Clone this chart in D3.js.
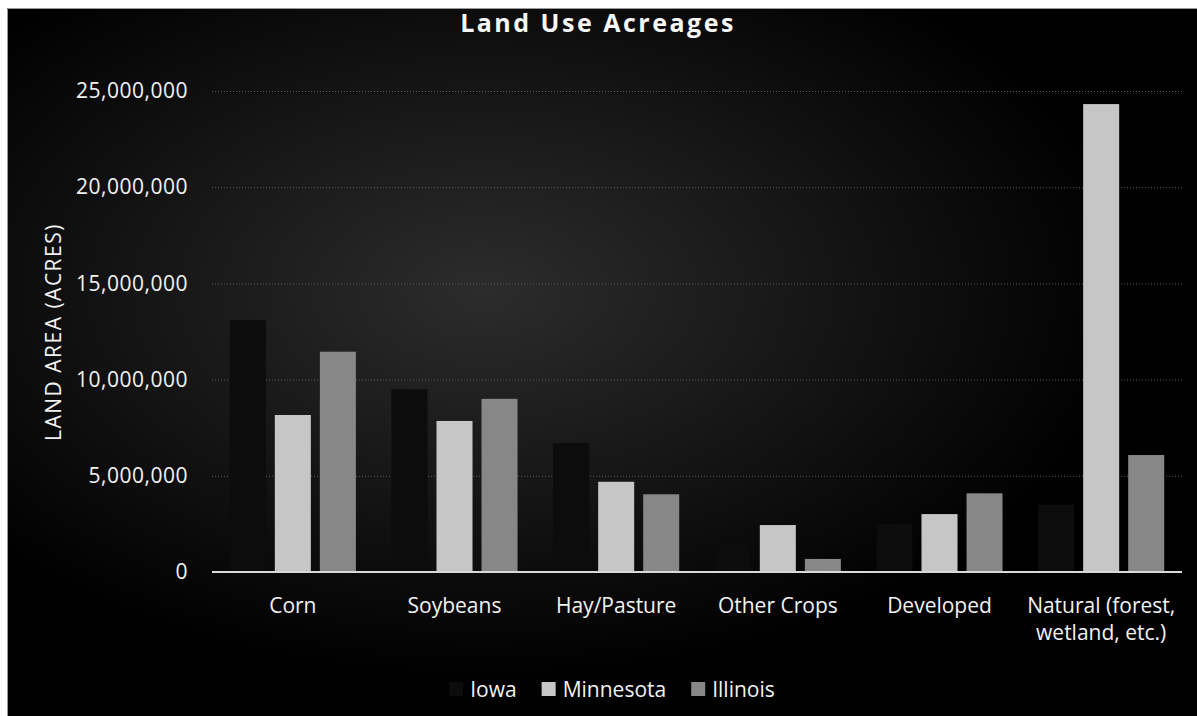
<!DOCTYPE html>
<html>
<head>
<meta charset="utf-8">
<script src="https://cdn.jsdelivr.net/npm/d3@7"></script>
<style>
  body { margin: 0; background: #fff; }
  svg { display: block; font-family: "Open Sans", "Noto Sans", sans-serif; }
</style>
</head>
<body>
<div id="chart"></div>
<script>
// data
const categories = ["Corn", "Soybeans", "Hay/Pasture", "Other Crops", "Developed", "Natural (forest, wetland, etc.)"];
const categoryLines = [["Corn"], ["Soybeans"], ["Hay/Pasture"], ["Other Crops"], ["Developed"], ["Natural (forest,", "wetland, etc.)"]];
const seriesNames = ["Iowa", "Minnesota", "Illinois"];
const iowa = [13100000, 9500000, 6700000, 1500000, 2500000, 3500000];
const minnesota = [8160000, 7850000, 4690000, 2440000, 3010000, 24320000];
const illinois = [11450000, 9000000, 4040000, 680000, 4090000, 6080000];
const yTicks = [0, 5000000, 10000000, 15000000, 20000000, 25000000];

const W = 1197, H = 716;
const margin = { top: 91, right: 15, bottom: 144, left: 212 };
const innerW = W - margin.left - margin.right;
const innerH = H - margin.top - margin.bottom;
const font = '"Open Sans", "Noto Sans", sans-serif';

const svg = d3.select("#chart").append("svg").attr("width", W).attr("height", H);

// background with the soft grey glow
const defs = svg.append("defs");
const grad = defs.append("radialGradient").attr("id", "glow")
  .attr("cx", "40%").attr("cy", "40%").attr("r", "55%");
grad.append("stop").attr("offset", "0%").attr("stop-color", "#2c2c2c");
grad.append("stop").attr("offset", "55%").attr("stop-color", "#141414");
grad.append("stop").attr("offset", "100%").attr("stop-color", "#000");

svg.append("rect").attr("x", 7).attr("y", 8).attr("width", W - 7).attr("height", H - 8).attr("fill", "#000");
svg.append("rect").attr("x", 7).attr("y", 8).attr("width", W - 7).attr("height", H - 8).attr("fill", "url(#glow)");
svg.append("path").attr("d", `M7.5,${H} V8.5 H${W}`).attr("fill", "none").attr("stroke", "#9a9a9a");

const g = svg.append("g").attr("transform", `translate(${margin.left},${margin.top})`);

const x0 = d3.scaleBand().domain(categories).range([0, innerW]).paddingInner(0.22).paddingOuter(0.11);
const x1 = d3.scaleBand().domain(seriesNames).range([0, x0.bandwidth()]).paddingInner(0.2);
const y = d3.scaleLinear().domain([0, 25000000]).range([innerH, 0]);
const color = d3.scaleOrdinal().domain(seriesNames).range(["#0c0c0c", "#c6c6c6", "#878787"]);

// gridlines
g.append("g")
  .call(d3.axisLeft(y).tickValues(yTicks.slice(1)).tickSize(-innerW).tickFormat(""))
  .call(a => a.select(".domain").remove())
  .selectAll("line")
  .attr("stroke", "#5a5a5a")
  .attr("stroke-dasharray", "1 2");

// y tick labels
g.append("g")
  .call(d3.axisLeft(y).tickValues(yTicks).tickSize(0).tickPadding(24).tickFormat(d3.format(",")))
  .call(a => a.select(".domain").remove())
  .selectAll("text")
  .attr("fill", "#f2f2f2")
  .attr("font-family", font)
  .style("font-size", "21px")
  .style("letter-spacing", "0.5px");

// bars
const rows = categories.map((c, i) => ({ cat: c, vals: [iowa[i], minnesota[i], illinois[i]] }));
const grp = g.selectAll(".grp").data(rows).enter().append("g")
  .attr("transform", d => `translate(${x0(d.cat)},0)`);
grp.selectAll("rect")
  .data(d => d.vals.map((v, k) => ({ name: seriesNames[k], v })))
  .enter().append("rect")
  .attr("x", d => x1(d.name))
  .attr("width", x1.bandwidth())
  .attr("y", d => y(d.v))
  .attr("height", d => innerH - y(d.v))
  .attr("fill", d => color(d.name));

// baseline
g.append("line").attr("x1", 0).attr("x2", innerW).attr("y1", innerH).attr("y2", innerH)
  .attr("stroke", "#d9d9d9").attr("stroke-width", 2);

// category labels
const xl = g.append("g");
categories.forEach((c, i) => {
  const cx = x0(c) + x0.bandwidth() / 2;
  const t = xl.append("text")
    .attr("x", cx)
    .attr("y", innerH + 41)
    .attr("text-anchor", "middle")
    .attr("fill", "#f2f2f2")
    .style("font-size", "21px");
  categoryLines[i].forEach((ln, j) => {
    t.append("tspan").attr("x", cx).attr("dy", j ? 27 : 0).text(ln);
  });
});

// y axis title
svg.append("text")
  .attr("transform", `translate(61,332) rotate(-90)`)
  .attr("text-anchor", "middle")
  .attr("fill", "#f2f2f2")
  .style("font-size", "21px").style("letter-spacing", "1.5px")
  .text("LAND AREA (ACRES)");

// title
svg.append("text")
  .attr("x", 598).attr("y", 32)
  .attr("text-anchor", "middle")
  .attr("fill", "#f7f7f7")
  .style("font-size", "25px").style("font-weight", "700").style("letter-spacing", "2.5px")
  .text("Land Use Acreages");

// legend
const legend = svg.append("g");
let lx = 0;
seriesNames.forEach(name => {
  const it = legend.append("g").attr("transform", `translate(${lx},0)`);
  it.append("rect").attr("x", 0).attr("y", -15).attr("width", 14).attr("height", 14).attr("fill", color(name));
  const t = it.append("text").attr("x", 21).attr("y", 0).attr("fill", "#f2f2f2").style("font-size", "21px").text(name);
  lx += 21 + t.node().getComputedTextLength() + 25;
});
lx -= 25;
legend.attr("transform", `translate(${612 - lx / 2},697)`);
</script>
</body>
</html>
